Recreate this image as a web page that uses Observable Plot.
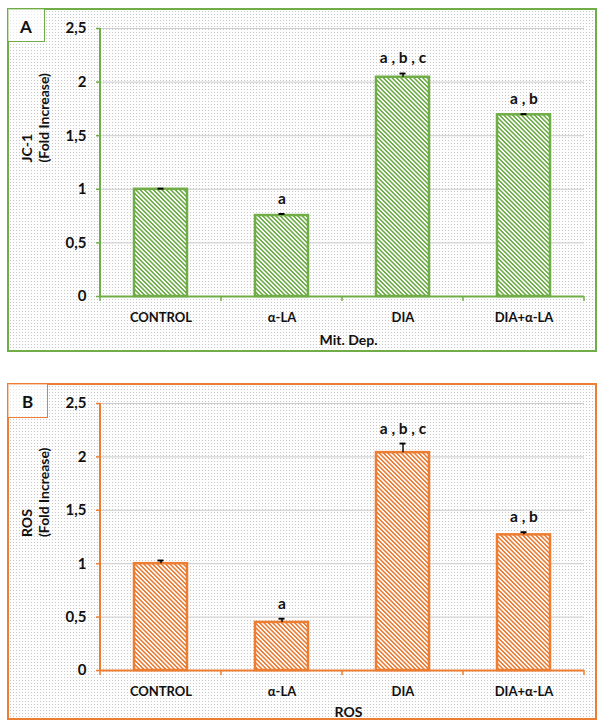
<!DOCTYPE html>
<html>
<head>
<meta charset="utf-8">
<script src="https://cdn.jsdelivr.net/npm/d3@7"></script>
<script src="https://cdn.jsdelivr.net/npm/@observablehq/plot@0.6"></script>
<style>
  body { margin: 0; background: #fff; font-family: Lato, "Open Sans", sans-serif; }
  #root { position: relative; width: 598px; height: 722px; overflow: hidden; }
  .panel { position: absolute; left: 7px; width: 590px; box-sizing: border-box;
    background-color: #fdfdfd;
    background-image: radial-gradient(circle, #c8c8c8 0.6px, transparent 0.95px);
    background-size: 3px 3px; }
  .tag { position: absolute; left: 7px; box-sizing: border-box; font-weight: 700; font-size: 17px;
    display: flex; align-items: center; justify-content: center; padding-top: 2px; background: rgba(255,255,255,0.6); color: #111; }
  .chart { position: absolute; left: 0; }
  .chart svg { display: block; }
</style>
</head>
<body>
<svg width="0" height="0" style="position:absolute">
  <defs>
    <pattern id="hatchA" patternUnits="userSpaceOnUse" width="3.1" height="3.1" patternTransform="rotate(45)">
      <rect width="3.1" height="3.1" fill="#ffffff"/>
      <line x1="-1" y1="1.55" x2="4.1" y2="1.55" stroke="#6BAA45" stroke-width="1.55"/>
    </pattern>
    <pattern id="hatchB" patternUnits="userSpaceOnUse" width="3.1" height="3.1" patternTransform="rotate(45)">
      <rect width="3.1" height="3.1" fill="#ffffff"/>
      <line x1="-1" y1="1.55" x2="4.1" y2="1.55" stroke="#E97B33" stroke-width="1.55"/>
    </pattern>
  </defs>
</svg>
<div id="root">
  <div class="panel" style="top:8px;height:344px;border:2px solid #70AD47;"></div>
  <div class="tag" style="top:8px;width:38px;height:34px;border:1.5px solid #70AD47;">A</div>
  <div class="panel" style="top:383px;height:337px;border:2px solid #ED7D31;"></div>
  <div class="tag" style="top:383px;width:41px;height:35px;border:1.5px solid #ED7D31;">B</div>
  <div class="chart" id="chartA" style="top:8px;"></div>
  <div class="chart" id="chartB" style="top:383px;"></div>
</div>
<script>
const categories = ["CONTROL", "α-LA", "DIA", "DIA+α-LA"];
const yTicks = [0, 0.5, 1, 1.5, 2, 2.5];

const jc1Values = [1.00, 0.755, 2.045, 1.695];
const jc1Errors = [0.006, 0.015, 0.035, 0.006];
const jc1Letters = ["", "a", "a , b , c", "a , b"];

const rosValues = [1.00, 0.45, 2.04, 1.27];
const rosErrors = [0.03, 0.035, 0.085, 0.025];
const rosLetters = ["", "a", "a , b , c", "a , b"];

function makePanel({values, errors, letters, color, hatch, title1, title2, xTitle, height, marginBottom, xTitleDy}) {
  const data = categories.map((c, i) => ({cat: c, v: values[i], top: values[i] + errors[i], letter: letters[i]}));
  const axisLines = (index, scales, vals, dims) => {
    const {x, y} = scales;
    const g = d3.create("svg:g");
    const x0 = dims.marginLeft;
    g.append("line").attr("x1", x0).attr("x2", x0).attr("y1", y(2.5)).attr("y2", y(0))
      .attr("stroke", color).attr("stroke-width", 2);
    const bw = x.bandwidth ? x.bandwidth() : (dims.width - dims.marginLeft - dims.marginRight) / categories.length;
    const bounds = categories.map(c => x(c)).concat([x(categories[categories.length - 1]) + bw]);
    for (const b of bounds) {
      g.append("line").attr("x1", b).attr("x2", b).attr("y1", y(0)).attr("y2", y(0) + 5)
        .attr("stroke", color).attr("stroke-width", 1.5);
    }
    return g.node();
  };
  return Plot.plot({
    width: 598, height, marginLeft: 100, marginRight: 14, marginTop: 20, marginBottom,
    style: {background: "transparent", fontFamily: "Lato, 'Open Sans', sans-serif", overflow: "visible"},
    x: {domain: categories, padding: 0, label: null},
    y: {domain: [0, 2.5], label: null},
    marks: [
      Plot.gridY(yTicks, {stroke: "#cdcdcd", strokeOpacity: 1, strokeWidth: 1}),
      Plot.axisY(yTicks, {tickSize: 4, tickPadding: 10, stroke: color, strokeWidth: 1.5, fill: "#111",
        fontSize: 15, fontWeight: "bold", tickFormat: d => String(d).replace(".", ","), label: null}),
      Plot.axisX({tickSize: 0, tickPadding: 16, fill: "#111", fontSize: 13, fontWeight: "bold", label: null}),
      Plot.barY(data, {x: "cat", y: "v", fill: `url(#${hatch})`, stroke: color, strokeWidth: 2.5, insetLeft: 34, insetRight: 34}),
      Plot.ruleY([0], {stroke: color, strokeWidth: 2}),
      axisLines,
      Plot.ruleX(data, {x: "cat", y1: "v", y2: "top", stroke: "#000", strokeWidth: 1.4}),
      Plot.tickY(data, {x: "cat", y: "top", stroke: "#000", strokeWidth: 1.9, insetLeft: 57.5, insetRight: 57.5}),
      Plot.text(data.filter(d => d.letter), {x: "cat", y: "top", text: "letter", dy: -15, lineAnchor: "middle",
        fontSize: 15.5, fontWeight: "bold", fill: "#111"}),
      Plot.text([title1], {frameAnchor: "left", rotate: -90, dx: -73, fontSize: 14, fontWeight: "bold", fill: "#111", lineAnchor: "middle"}),
      Plot.text([title2], {frameAnchor: "left", rotate: -90, dx: -56, fontSize: 14, fontWeight: "bold", fill: "#111", lineAnchor: "middle"}),
      Plot.text([xTitle], {frameAnchor: "bottom", dx: 6, dy: xTitleDy, fontSize: 14, fontWeight: "bold", fill: "#111", lineAnchor: "middle"})
    ]
  });
}

document.getElementById("chartA").append(makePanel({
  values: jc1Values, errors: jc1Errors, letters: jc1Letters, color: "#70AD47", hatch: "hatchA",
  title1: "JC-1", title2: "(Fold Increase)", xTitle: "Mit. Dep.", height: 344, marginBottom: 56, xTitleDy: 44
}));
document.getElementById("chartB").append(makePanel({
  values: rosValues, errors: rosErrors, letters: rosLetters, color: "#ED7D31", hatch: "hatchB",
  title1: "ROS", title2: "(Fold Increase)", xTitle: "ROS", height: 337, marginBottom: 50, xTitleDy: 42
}));
</script>
</body>
</html>
